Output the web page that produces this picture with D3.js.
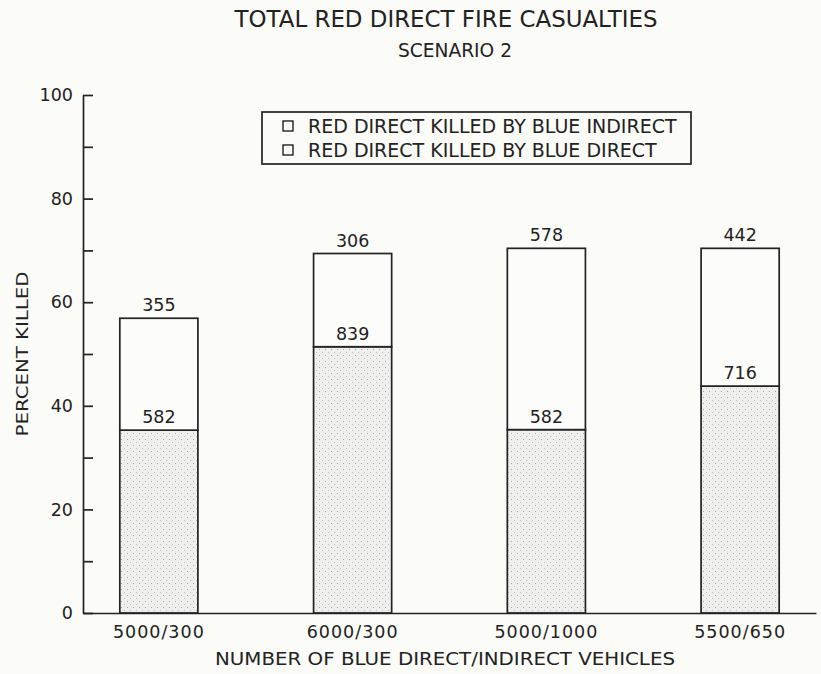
<!DOCTYPE html>
<html>
<head>
<meta charset="utf-8">
<script src="https://cdn.jsdelivr.net/npm/d3@7"></script>
<style>
  html, body { margin: 0; padding: 0; background: #fbfbf8; }
  svg { display: block; font-family: 'DejaVu Sans', sans-serif; }
  text { fill: #222; }
</style>
</head>
<body>
<div id="chart"></div>
<script>
// values (percent killed, stacked)
const categories = ['5000/300', '6000/300', '5000/1000', '5500/650'];
const byBlueDirect = [35.3, 51.4, 35.4, 43.8];
const byBlueIndirect = [21.6, 18.0, 35.0, 26.6];
const directCounts = [582, 839, 582, 716];
const indirectCounts = [355, 306, 578, 442];
const majorTicks = [0, 20, 40, 60, 80, 100];
const minorTicks = [10, 30, 50, 70, 90];
const legendLabels = ['RED DIRECT KILLED BY BLUE INDIRECT', 'RED DIRECT KILLED BY BLUE DIRECT'];

const width = 821;
const height = 674;
const ink = '#222';

const rows = categories.map((c, i) => ({
  cat: c,
  direct: byBlueDirect[i],
  indirect: byBlueIndirect[i],
  directN: directCounts[i],
  indirectN: indirectCounts[i]
}));

const svg = d3.select('#chart')
  .append('svg')
  .attr('width', width)
  .attr('height', height);

// stipple fill for the lower segment
const defs = svg.append('defs');
const pat = defs.append('pattern')
  .attr('id', 'stipple')
  .attr('patternUnits', 'userSpaceOnUse')
  .attr('width', 6)
  .attr('height', 6);
pat.append('rect').attr('width', 6).attr('height', 6).attr('fill', '#efefed');
pat.append('rect').attr('x', 1).attr('y', 1).attr('width', 1).attr('height', 1).attr('fill', '#a6a6a6');
pat.append('rect').attr('x', 4).attr('y', 4).attr('width', 1).attr('height', 1).attr('fill', '#bdbdbd');

const x = d3.scaleBand()
  .domain(categories)
  .range([83, 816])
  .paddingInner(0.597)
  .paddingOuter(0.19);

const y = d3.scaleLinear().domain([0, 100]).range([613, 95]);

const stacked = d3.stack().keys(['direct', 'indirect'])(rows);

// bars
const layer = svg.selectAll('.layer')
  .data(stacked)
  .enter()
  .append('g')
  .attr('class', 'layer')
  .attr('fill', d => (d.key === 'direct' ? 'url(#stipple)' : '#fcfcfa'));

layer.selectAll('rect')
  .data(d => d)
  .enter()
  .append('rect')
  .attr('x', d => x(d.data.cat))
  .attr('y', d => y(d[1]))
  .attr('width', x.bandwidth())
  .attr('height', d => y(d[0]) - y(d[1]))
  .attr('stroke', ink)
  .attr('stroke-width', 1.7);

// count labels above each segment
svg.selectAll('.lbl-direct')
  .data(rows)
  .enter()
  .append('text')
  .attr('class', 'lbl-direct')
  .attr('x', d => x(d.cat) + x.bandwidth() / 2)
  .attr('y', d => y(d.direct) - 7)
  .attr('text-anchor', 'middle')
  .attr('font-size', 17.5)
  .text(d => d.directN);

svg.selectAll('.lbl-indirect')
  .data(rows)
  .enter()
  .append('text')
  .attr('class', 'lbl-indirect')
  .attr('x', d => x(d.cat) + x.bandwidth() / 2)
  .attr('y', d => y(d.direct + d.indirect) - 7)
  .attr('text-anchor', 'middle')
  .attr('font-size', 17.5)
  .text(d => d.indirectN);

// y axis, ticks pointing inward
const yAxis = svg.append('g')
  .attr('transform', 'translate(83,0)')
  .call(d3.axisLeft(y).tickValues(majorTicks).tickSize(-10).tickSizeOuter(0).tickPadding(10));
svg.append('g')
  .attr('transform', 'translate(83,0)')
  .call(d3.axisLeft(y).tickValues(minorTicks).tickSize(-10).tickSizeOuter(0).tickFormat(''))
  .select('.domain').remove();

yAxis.selectAll('text').attr('font-size', 17.5).attr('font-family', 'DejaVu Sans').attr('fill', ink);

// x axis
const xAxis = svg.append('g')
  .attr('transform', 'translate(0,613)')
  .call(d3.axisBottom(x).tickSize(0).tickPadding(13));
xAxis.selectAll('text')
  .attr('font-size', 17.5)
  .attr('font-family', 'DejaVu Sans')
  .attr('letter-spacing', 1)
  .attr('fill', ink);

svg.selectAll('.domain, .tick line').attr('stroke', ink).attr('stroke-width', 1.7);

// titles
svg.append('text')
  .attr('x', 446)
  .attr('y', 27)
  .attr('text-anchor', 'middle')
  .attr('font-size', 23.5)
  .attr('textLength', 423)
  .attr('lengthAdjust', 'spacingAndGlyphs')
  .text('TOTAL RED DIRECT FIRE CASUALTIES');

svg.append('text')
  .attr('x', 455)
  .attr('y', 57)
  .attr('text-anchor', 'middle')
  .attr('font-size', 19.5)
  .attr('textLength', 114)
  .attr('lengthAdjust', 'spacingAndGlyphs')
  .text('SCENARIO 2');

svg.append('text')
  .attr('x', 445)
  .attr('y', 665)
  .attr('text-anchor', 'middle')
  .attr('font-size', 18.5)
  .attr('textLength', 460)
  .attr('lengthAdjust', 'spacingAndGlyphs')
  .text('NUMBER OF BLUE DIRECT/INDIRECT VEHICLES');

svg.append('text')
  .attr('transform', 'translate(28,354) rotate(-90)')
  .attr('text-anchor', 'middle')
  .attr('font-size', 16)
  .attr('textLength', 165)
  .attr('lengthAdjust', 'spacingAndGlyphs')
  .text('PERCENT KILLED');

// legend
const legend = svg.append('g').attr('transform', 'translate(262,112)');
legend.append('rect')
  .attr('width', 429)
  .attr('height', 52)
  .attr('fill', 'none')
  .attr('stroke', ink)
  .attr('stroke-width', 1.7);

const item = legend.selectAll('.item')
  .data(legendLabels)
  .enter()
  .append('g')
  .attr('class', 'item')
  .attr('transform', (d, i) => `translate(0,${14 + i * 24})`);

item.append('rect')
  .attr('x', 21)
  .attr('y', -5)
  .attr('width', 10)
  .attr('height', 10)
  .attr('fill', '#fcfcfa')
  .attr('stroke', ink)
  .attr('stroke-width', 1.4);

item.append('text')
  .attr('x', 46)
  .attr('y', 7)
  .attr('font-size', 19)
  .text(d => d);
</script>
</body>
</html>
